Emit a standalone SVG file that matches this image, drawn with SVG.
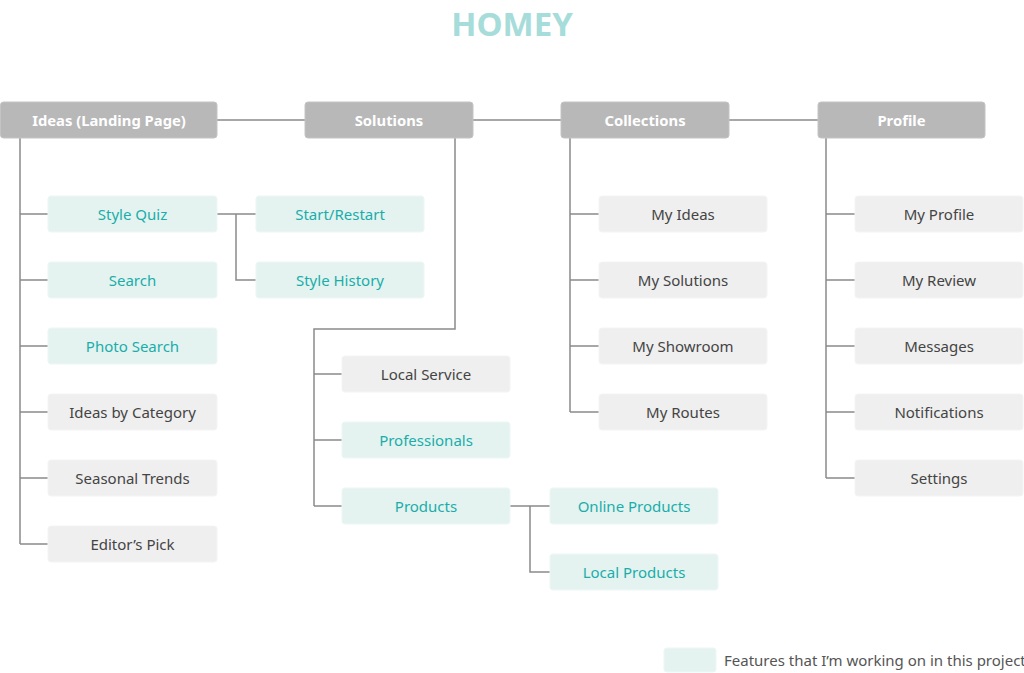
<svg xmlns="http://www.w3.org/2000/svg" width="1024" height="673" viewBox="0 0 1024 673">
<style>
.top rect{fill:#b8b8b8;stroke:#c4c4c4;stroke-width:1}
.top text{fill:#ffffff;font-family:"Noto Sans","Liberation Sans",sans-serif;font-size:14.8px;font-weight:bold;text-anchor:middle;dominant-baseline:central}
.g rect{fill:#efefef;stroke:#f4f4f4;stroke-width:1}
.g text{fill:#444444;font-family:"Noto Sans","Liberation Sans",sans-serif;font-size:15px;text-anchor:middle;dominant-baseline:central}
.t rect{fill:#e4f3f0;stroke:#ecf7f5;stroke-width:1}
.t text{fill:#1aadaa;font-family:"Noto Sans","Liberation Sans",sans-serif;font-size:15px;text-anchor:middle;dominant-baseline:central}
#connectors path{fill:none;stroke:#8a8a8a;stroke-width:1.5}
</style>
<rect width="1024" height="673" fill="#ffffff"/>
<text x="512" y="36" font-family="Noto Sans, Liberation Sans, sans-serif" font-size="33" font-weight="bold" fill="#a6dcd9" text-anchor="middle">HOMEY</text>

<g id="connectors">
<path d="M217 120H305M473 120H561M729 120H818"/>
<path d="M20 138V544M20 214H48M20 280H48M20 346H48M20 412H48M20 478H48M20 544H48"/>
<path d="M217 214H256M236 214V280H256"/>
<path d="M455 138V329H314V506M314 374H342M314 440H342M314 506H342"/>
<path d="M510 506H550M530 506V572H550"/>
<path d="M570 138V412M570 214H599M570 280H599M570 346H599M570 412H599"/>
<path d="M826 138V478M826 214H855M826 280H855M826 346H855M826 412H855M826 478H855"/>
</g>

<g id="n-ideas" class="top"><rect x="0.5" y="102" width="216.5" height="36" rx="3"/><text x="109" y="120">Ideas (Landing Page)</text></g>
<g id="n-solutions" class="top"><rect x="305" y="102" width="168" height="36" rx="3"/><text x="389" y="120">Solutions</text></g>
<g id="n-collections" class="top"><rect x="561" y="102" width="168" height="36" rx="3"/><text x="645" y="120">Collections</text></g>
<g id="n-profile" class="top"><rect x="818" y="102" width="167" height="36" rx="3"/><text x="901.5" y="120">Profile</text></g>

<g id="n-stylequiz" class="t"><rect x="48" y="196" width="169" height="36" rx="3"/><text x="132.5" y="214">Style Quiz</text></g>
<g id="n-search" class="t"><rect x="48" y="262" width="169" height="36" rx="3"/><text x="132.5" y="280">Search</text></g>
<g id="n-photosearch" class="t"><rect x="48" y="328" width="169" height="36" rx="3"/><text x="132.5" y="346">Photo Search</text></g>
<g id="n-ideascat" class="g"><rect x="48" y="394" width="169" height="36" rx="3"/><text x="132.5" y="412">Ideas by Category</text></g>
<g id="n-seasonal" class="g"><rect x="48" y="460" width="169" height="36" rx="3"/><text x="132.5" y="478">Seasonal Trends</text></g>
<g id="n-editor" class="g"><rect x="48" y="526" width="169" height="36" rx="3"/><text x="132.5" y="544">Editor’s Pick</text></g>

<g id="n-start" class="t"><rect x="256" y="196" width="168" height="36" rx="3"/><text x="340" y="214">Start/Restart</text></g>
<g id="n-stylehistory" class="t"><rect x="256" y="262" width="168" height="36" rx="3"/><text x="340" y="280">Style History</text></g>

<g id="n-localservice" class="g"><rect x="342" y="356" width="168" height="36" rx="3"/><text x="426" y="374">Local Service</text></g>
<g id="n-professionals" class="t"><rect x="342" y="422" width="168" height="36" rx="3"/><text x="426" y="440">Professionals</text></g>
<g id="n-products" class="t"><rect x="342" y="488" width="168" height="36" rx="3"/><text x="426" y="506">Products</text></g>
<g id="n-online" class="t"><rect x="550" y="488" width="168" height="36" rx="3"/><text x="634" y="506">Online Products</text></g>
<g id="n-localproducts" class="t"><rect x="550" y="554" width="168" height="36" rx="3"/><text x="634" y="572">Local Products</text></g>

<g id="n-myideas" class="g"><rect x="599" y="196" width="168" height="36" rx="3"/><text x="683" y="214">My Ideas</text></g>
<g id="n-mysolutions" class="g"><rect x="599" y="262" width="168" height="36" rx="3"/><text x="683" y="280">My Solutions</text></g>
<g id="n-myshowroom" class="g"><rect x="599" y="328" width="168" height="36" rx="3"/><text x="683" y="346">My Showroom</text></g>
<g id="n-myroutes" class="g"><rect x="599" y="394" width="168" height="36" rx="3"/><text x="683" y="412">My Routes</text></g>

<g id="n-myprofile" class="g"><rect x="855" y="196" width="168" height="36" rx="3"/><text x="939" y="214">My Profile</text></g>
<g id="n-myreview" class="g"><rect x="855" y="262" width="168" height="36" rx="3"/><text x="939" y="280">My Review</text></g>
<g id="n-messages" class="g"><rect x="855" y="328" width="168" height="36" rx="3"/><text x="939" y="346">Messages</text></g>
<g id="n-notifications" class="g"><rect x="855" y="394" width="168" height="36" rx="3"/><text x="939" y="412">Notifications</text></g>
<g id="n-settings" class="g"><rect x="855" y="460" width="168" height="36" rx="3"/><text x="939" y="478">Settings</text></g>

<g id="legend">
<rect x="664" y="648" width="52" height="24" rx="3" fill="#e4f3f0" stroke="#ecf7f5"/>
<text x="724" y="660" font-family="Noto Sans, Liberation Sans, sans-serif" font-size="15" fill="#555555" dominant-baseline="central">Features that I’m working on in this project</text>
</g>
</svg>
